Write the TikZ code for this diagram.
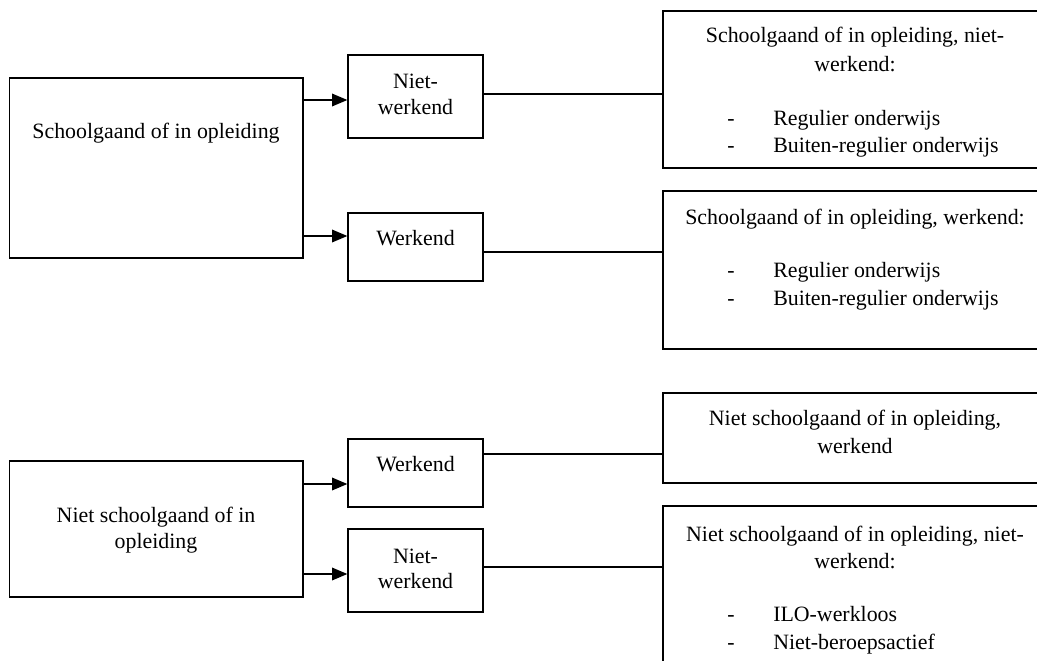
\documentclass[tikz,border=0pt]{standalone}
\usepackage{fontspec}
\setmainfont{Liberation Serif}
\usetikzlibrary{arrows.meta,fit}
\begin{document}
\begin{tikzpicture}[x=0.75pt,y=-0.75pt,
  box/.style={draw, line width=1pt, inner sep=0pt},
  txt/.style={anchor=base, inner sep=0pt, font=\fontsize{16.4}{20}\selectfont},
  itemtxt/.style={txt, anchor=base west},
  ln/.style={line width=1pt},
  arr/.style={line width=1pt, -{Triangle[length=11.5pt,width=9.5pt]}}]
\useasboundingbox (0,0) rectangle (1037,660);
% boxes
\node[box, fit={(9.5,78) (303,258)}] (L1) {};
\node[box, fit={(348,55) (483,138)}] (N1) {};
\node[box, fit={(348,213) (483,281)}] (W1) {};
\node[box, fit={(663,11) (1047,168)}] (R1) {};
\node[box, fit={(663,191) (1047,349)}] (R2) {};
\node[box, fit={(9.5,461) (303,597)}] (L2) {};
\node[box, fit={(348,439) (483,507)}] (W2) {};
\node[box, fit={(348,529) (483,612)}] (N2) {};
\node[box, fit={(663,393) (1047,483)}] (R3) {};
\node[box, fit={(663,506) (1047,720)}] (R4) {};
% connector heights
\coordinate (a1) at (0,100);
\coordinate (a2) at (0,236);
\coordinate (a3) at (0,484);
\coordinate (a4) at (0,574);
\coordinate (b1) at (0,94);
\coordinate (b2) at (0,252);
\coordinate (b3) at (0,454);
\coordinate (b4) at (0,567);
\draw[arr] (L1.east |- a1) -- (N1.west |- a1);
\draw[arr] (L1.east |- a2) -- (W1.west |- a2);
\draw[arr] (L2.east |- a3) -- (W2.west |- a3);
\draw[arr] (L2.east |- a4) -- (N2.west |- a4);
\draw[ln] (N1.east |- b1) -- (R1.west |- b1);
\draw[ln] (W1.east |- b2) -- (R2.west |- b2);
\draw[ln] (W2.east |- b3) -- (R3.west |- b3);
\draw[ln] (N2.east |- b4) -- (R4.west |- b4);
% texts
\node[txt] (tL1) at (156,138) {Schoolgaand of in opleiding};
\node[txt] (tN1a) at (415.5,89) {Niet-};
\node[txt] (tN1b) at (415.5,114) {werkend};
\node[txt] (tW1) at (415.5,245) {Werkend};
\node[txt] (tR1a) at (855,43) {Schoolgaand of in opleiding, niet-};
\node[txt] (tR1b) at (855,71) {werkend:};
\node[txt] (dR1a) at (731,125) {-};
\node[itemtxt] (iR1a) at (773,125) {Regulier onderwijs};
\node[txt] (dR1b) at (731,152) {-};
\node[itemtxt] (iR1b) at (773,152) {Buiten-regulier onderwijs};
\node[txt] (tR2a) at (855,224) {Schoolgaand of in opleiding, werkend:};
\node[txt] (dR2a) at (731,277) {-};
\node[itemtxt] (iR2a) at (773,277) {Regulier onderwijs};
\node[txt] (dR2b) at (731,305) {-};
\node[itemtxt] (iR2b) at (773,305) {Buiten-regulier onderwijs};
\node[txt] (tL2a) at (156,522) {Niet schoolgaand of in};
\node[txt] (tL2b) at (156,548) {opleiding};
\node[txt] (tW2) at (415.5,471) {Werkend};
\node[txt] (tN2a) at (415.5,563) {Niet-};
\node[txt] (tN2b) at (415.5,588) {werkend};
\node[txt] (tR3a) at (855,425) {Niet schoolgaand of in opleiding,};
\node[txt] (tR3b) at (855,453) {werkend};
\node[txt] (tR4a) at (855,541) {Niet schoolgaand of in opleiding, niet-};
\node[txt] (tR4b) at (855,568) {werkend:};
\node[txt] (dR4a) at (731,621) {-};
\node[itemtxt] (iR4a) at (773,621) {ILO-werkloos};
\node[txt] (dR4b) at (731,649) {-};
\node[itemtxt] (iR4b) at (773,649) {Niet-beroepsactief};
\end{tikzpicture}
\end{document}
